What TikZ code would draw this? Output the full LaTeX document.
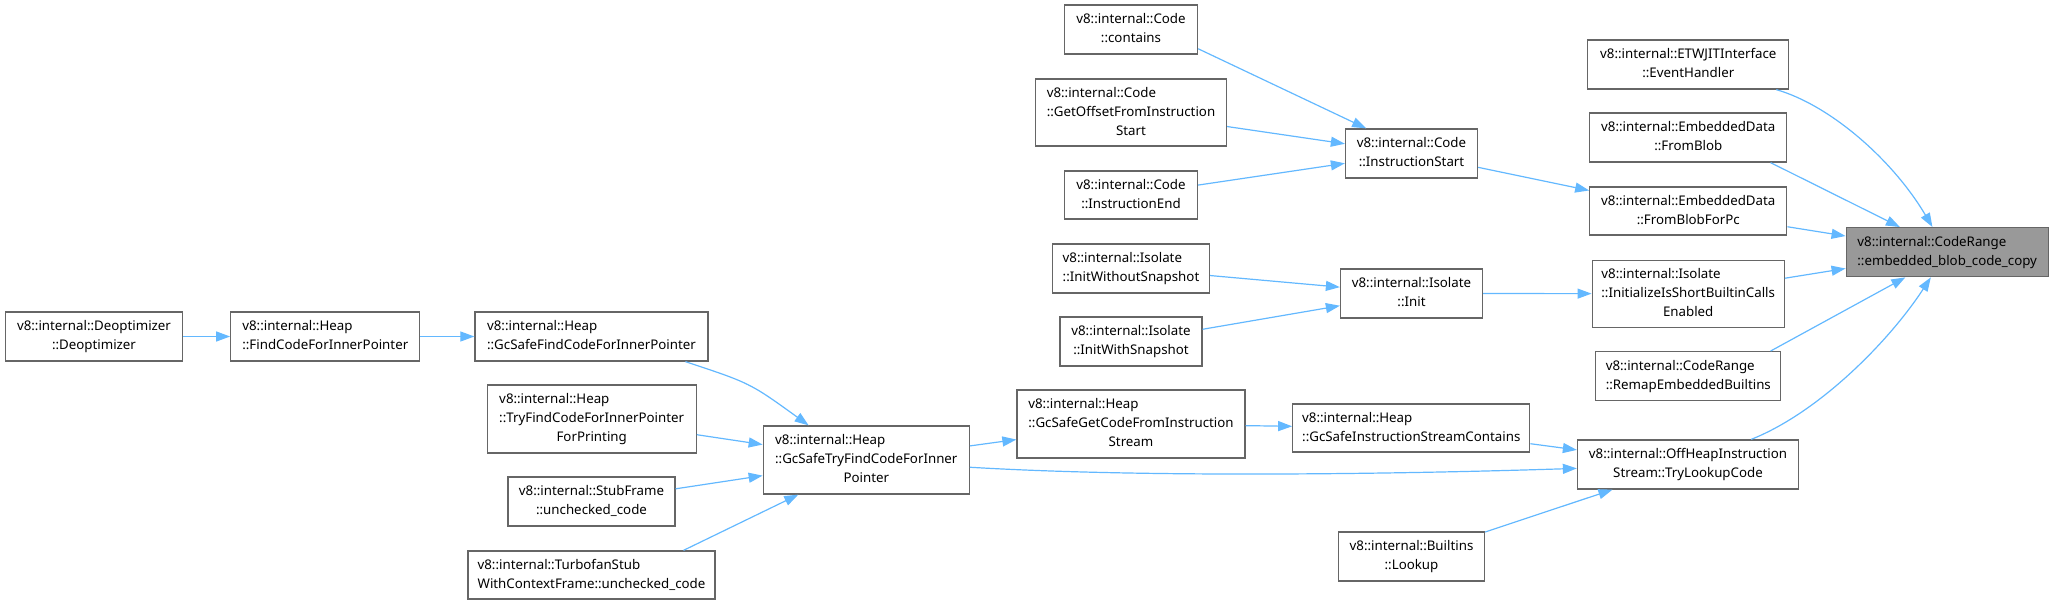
\documentclass[tikz,border=0pt]{standalone}
\usepackage{fontspec}
\setmainfont{Noto Sans}
\usetikzlibrary{arrows.meta}

\definecolor{edgeblue}{HTML}{63B8FF}
\definecolor{boxline}{HTML}{666666}
\definecolor{hlfill}{HTML}{999999}

% label: lines left-aligned, last line centred
\newcommand{\fnii}[2]{\begin{tabular}{@{}l@{}}#1\\\multicolumn{1}{@{}c@{}}{#2}\end{tabular}}
\newcommand{\fniii}[3]{\begin{tabular}{@{}l@{}}#1\\#2\\\multicolumn{1}{@{}c@{}}{#3}\end{tabular}}

\begin{document}
\begin{tikzpicture}[x=1pt, y=-1pt, >={Triangle[length=14pt,width=10pt]},
  every node/.style={font=\fontsize{13.3}{19}\selectfont},
  fn/.style={draw=boxline, line width=1.3pt, fill=white, inner sep=2pt, minimum height=49pt},
  hl/.style={fn, fill=hlfill},
  edge/.style={->, draw=edgeblue, line width=1.2pt}]
\useasboundingbox (0,0) rectangle (2053,605);

% left part
\node[fn, minimum width=177pt] (deopt) at (94,336.5) {\fnii{v8::internal::Deoptimizer}{::Deoptimizer}};
\node[fn, minimum width=189pt] (findcode) at (325.3,336.5) {\fnii{v8::internal::Heap}{::FindCodeForInnerPointer}};
\node[fn, minimum width=233pt] (gcfind) at (591.5,336.5) {\fnii{v8::internal::Heap}{::GcSafeFindCodeForInnerPointer}};
\node[fn, minimum width=209pt, minimum height=68pt] (tryprint) at (591.7,419) {\fniii{v8::internal::Heap}{::TryFindCodeForInnerPointer}{ForPrinting}};
\node[fn, minimum width=167pt] (stubframe) at (591.5,501.5) {\fnii{v8::internal::StubFrame}{::unchecked\_code}};
\node[fn, minimum width=247pt, minimum height=48pt] (turbofan) at (591.5,575) {\fnii{v8::internal::TurbofanStub}{WithContextFrame::unchecked\_code}};
\node[fn, minimum width=206pt, minimum height=68pt] (gctryfind) at (866.3,460) {\fniii{v8::internal::Heap}{::GcSafeTryFindCodeForInner}{Pointer}};

% middle part
\node[fn, minimum width=133pt] (contains) at (1131,29.5) {\fnii{v8::internal::Code}{::contains}};
\node[fn, minimum width=191pt, minimum height=67pt] (getoffset) at (1131,112.5) {\fniii{v8::internal::Code}{::GetOffsetFromInstruction}{Start}};
\node[fn, minimum width=133pt, minimum height=48pt] (instrend) at (1131,195) {\fnii{v8::internal::Code}{::InstructionEnd}};
\node[fn, minimum width=157pt] (initwithout) at (1131,268.5) {\fnii{v8::internal::Isolate}{::InitWithoutSnapshot}};
\node[fn, minimum width=142pt] (initwith) at (1131,341.5) {\fnii{v8::internal::Isolate}{::InitWithSnapshot}};
\node[fn, minimum width=228pt, minimum height=68pt] (gcgetcode) at (1131,424) {\fniii{v8::internal::Heap}{::GcSafeGetCodeFromInstruction}{Stream}};
\node[fn, minimum width=132pt] (instrstart) at (1411.5,153.5) {\fnii{v8::internal::Code}{::InstructionStart}};
\node[fn, minimum width=142pt] (init) at (1411.5,293.5) {\fnii{v8::internal::Isolate}{::Init}};
\node[fn, minimum width=237pt, minimum height=48pt] (gccontains) at (1411.3,428) {\fnii{v8::internal::Heap}{::GcSafeInstructionStreamContains}};
\node[fn, minimum width=146pt] (lookup) at (1411.5,556.5) {\fnii{v8::internal::Builtins}{::Lookup}};

% right part
\node[fn, minimum width=201pt] (etw) at (1688.3,64.5) {\fnii{v8::internal::ETWJITInterface}{::EventHandler}};
\node[fn, minimum width=197pt] (fromblob) at (1688.3,137.5) {\fnii{v8::internal::EmbeddedData}{::FromBlob}};
\node[fn, minimum width=197pt, minimum height=48pt] (fromblobpc) at (1688.3,211) {\fnii{v8::internal::EmbeddedData}{::FromBlobForPc}};
\node[fn, minimum width=192pt, minimum height=67pt] (initshort) at (1688.2,293.7) {\fniii{v8::internal::Isolate}{::InitializeIsShortBuiltinCalls}{Enabled}};
\node[fn, minimum width=185pt] (remap) at (1688.3,376.2) {\fnii{v8::internal::CodeRange}{::RemapEmbeddedBuiltins}};
\node[fn, minimum width=221pt] (offheap) at (1688,464.5) {\fnii{v8::internal::OffHeapInstruction}{Stream::TryLookupCode}};
\node[hl, minimum width=202pt] (coderange) at (1947.2,252.2) {\fnii{v8::internal::CodeRange}{::embedded\_blob\_code\_copy}};

% calls
\draw[edge] (deopt) -- (findcode);
\draw[edge] (findcode) -- (gcfind);
\draw[edge] (gcfind.-15) .. controls (750,383) .. (gctryfind.149);
\draw[edge] (tryprint) -- (gctryfind);
\draw[edge] (stubframe) -- (gctryfind);
\draw[edge] (turbofan.15) -- (gctryfind.207);
\draw[edge] (gctryfind) -- (gcgetcode);
\draw[edge] (gctryfind.-4) .. controls (1150,478) and (1400,474) .. (offheap.182);
\draw[edge] (gcgetcode) -- (gccontains);
\draw[edge] (gccontains) -- (offheap);
\draw[edge] (lookup) -- (offheap);
\draw[edge] (offheap) .. controls (1820,412) and (1890,340) .. (coderange);
\draw[edge] (contains.-16) -- (instrstart.151);
\draw[edge] (getoffset) -- (instrstart);
\draw[edge] (instrend) -- (instrstart);
\draw[edge] (instrstart) -- (fromblobpc);
\draw[edge] (initwithout) -- (init);
\draw[edge] (initwith) -- (init);
\draw[edge] (init) -- (initshort);
\draw[edge] (etw) .. controls (1830,105) and (1893,160) .. (coderange);
\draw[edge] (fromblob.-17) -- (coderange.152);
\draw[edge] (fromblobpc) -- (coderange);
\draw[edge] (initshort) -- (coderange);
\draw[edge] (remap.17) -- (coderange.211);
\end{tikzpicture}
\end{document}
